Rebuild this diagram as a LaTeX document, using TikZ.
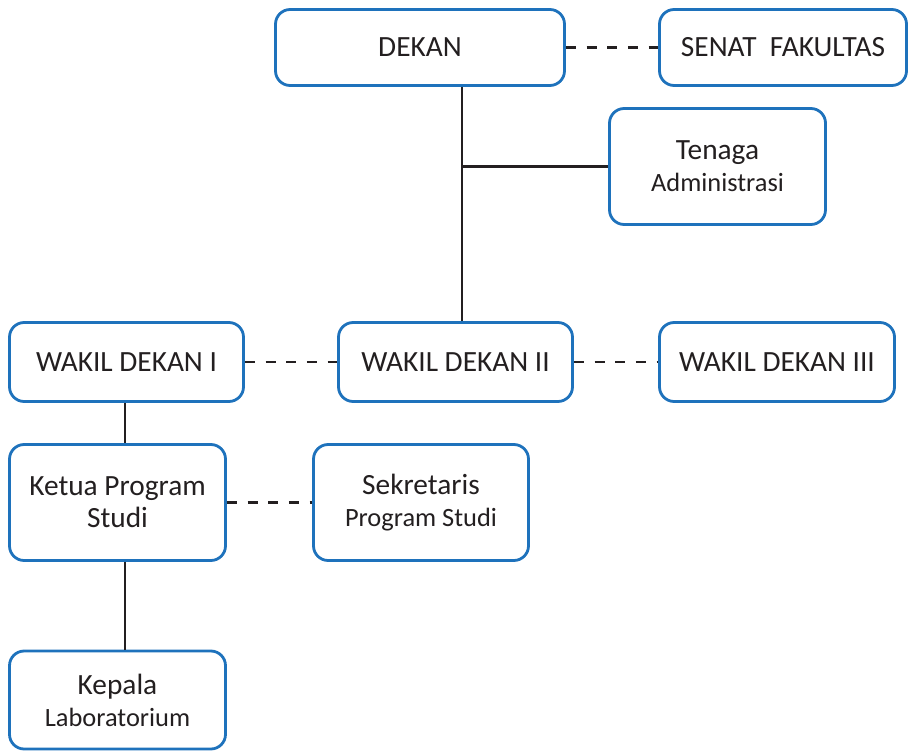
\documentclass[tikz,border=0pt]{standalone}
\usepackage{fontspec}
\setmainfont{Carlito}
\definecolor{boxblue}{RGB}{30,114,188}
\definecolor{ink}{RGB}{35,31,32}
\begin{document}
\begin{tikzpicture}[x=0.75pt,y=-0.75pt,
  orgbox/.style={draw=boxblue, line width=2.1pt, rounded corners=11pt, fill=white,
    text=ink, align=center, inner sep=0pt, font=\fontsize{22}{24}\selectfont},
  solidlink/.style={draw=ink, line width=2.1pt},
  dashlink/.style={draw=ink, line width=2.1pt, dash pattern=on 7.5pt off 8pt},
  small/.style={font=\fontsize{19.8}{24}\selectfont}]
\useasboundingbox (0,0) rectangle (910,752);

\node[orgbox, minimum width=289*0.75pt, minimum height=76*0.75pt] (dekan) at (420,47.5) {DEKAN};
\node[orgbox, minimum width=247*0.75pt, minimum height=76*0.75pt] (senat) at (783,47.5) {SENAT\ \ FAKULTAS};
\node[orgbox, minimum width=216*0.75pt, minimum height=116*0.75pt] (tenaga) at (717.5,166.5) {Tenaga\\{\fontsize{19.8}{24}\selectfont Administrasi}};
\node[orgbox, minimum width=234*0.75pt, minimum height=79*0.75pt] (wd1) at (126.5,362) {WAKIL DEKAN I};
\node[orgbox, minimum width=234*0.75pt, minimum height=79*0.75pt] (wd2) at (455.5,362) {WAKIL DEKAN II};
\node[orgbox, minimum width=235*0.75pt, minimum height=79*0.75pt] (wd3) at (777,362) {WAKIL DEKAN III};
\node[orgbox, minimum width=216*0.75pt, minimum height=116*0.75pt] (ketua) at (117.5,502.5) {Ketua Program\\Studi};
\node[orgbox, minimum width=215*0.75pt, minimum height=116*0.75pt] (sekr) at (421,502.5) {Sekretaris\\{\fontsize{19.8}{24}\selectfont Program Studi}};
\node[orgbox, minimum width=216*0.75pt, minimum height=98*0.75pt] (kepala) at (117.5,700) {Kepala\\{\fontsize{19.8}{24}\selectfont Laboratorium}};

\coordinate (spine) at (462,0);
\coordinate (leftspine) at (125,0);

\draw[solidlink] (dekan.south -| spine) -- (wd2.north -| spine);
\draw[solidlink] (tenaga.west) -- (tenaga.west -| spine);
\draw[dashlink] (dekan.east) -- (senat.west);
\draw[dashlink] (wd1.east) -- (wd2.west);
\draw[dashlink] (wd2.east) -- (wd3.west);
\draw[solidlink] (wd1.south -| leftspine) -- (ketua.north -| leftspine);
\draw[dashlink] (ketua.east) -- (sekr.west);
\draw[solidlink] (ketua.south -| leftspine) -- (kepala.north -| leftspine);
\end{tikzpicture}
\end{document}
